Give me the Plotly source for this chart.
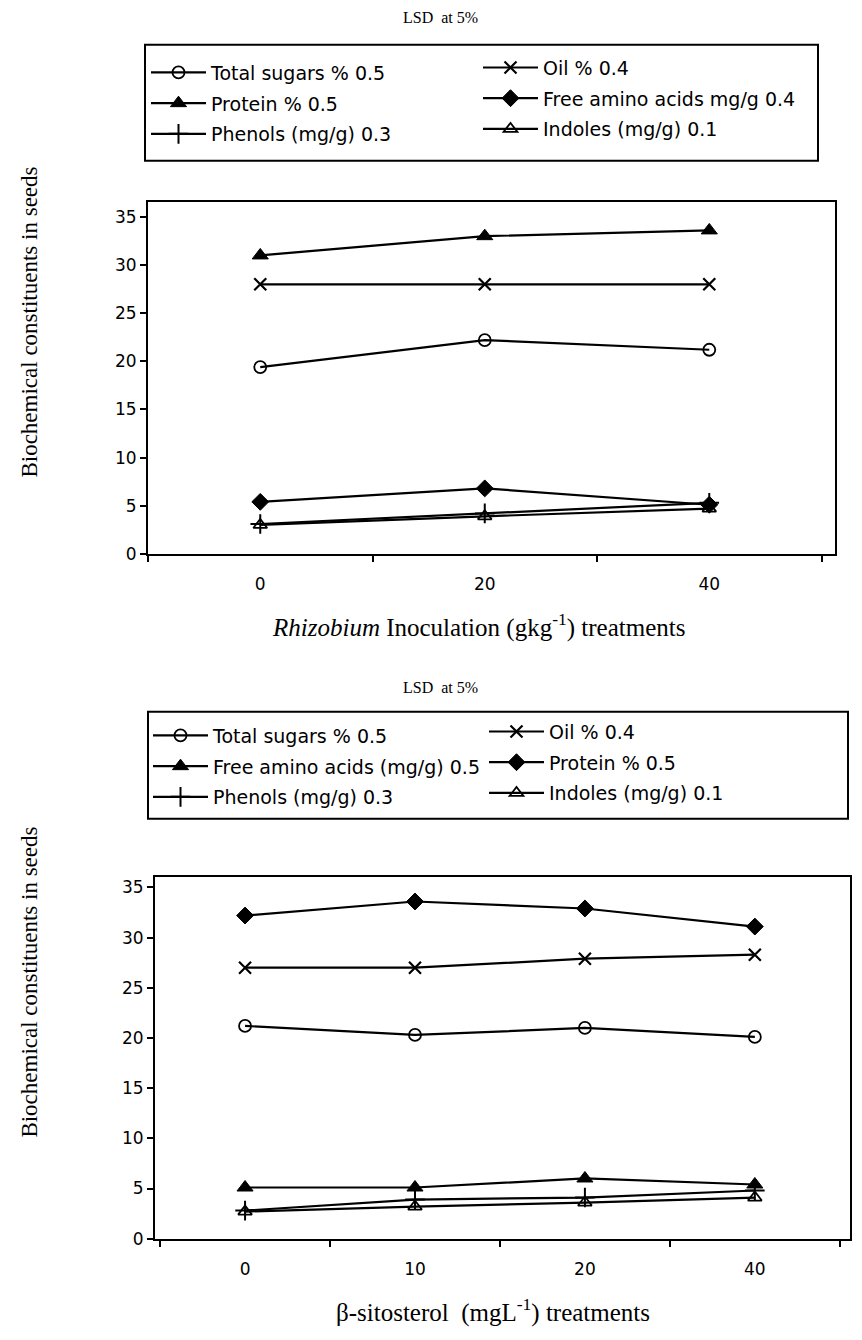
import plotly.graph_objects as go

# ---------------- data ----------------
x_top = ["0", "20", "40"]
sugars_top = [19.4, 22.2, 21.2]
oil_top = [28.0, 28.0, 28.0]
protein_top = [31.0, 33.0, 33.6]
faa_top = [5.4, 6.8, 5.1]
phenols_top = [3.1, 4.2, 5.3]
indoles_top = [3.0, 3.9, 4.7]

x_bot = ["0", "10", "20", "40"]
sugars_bot = [21.2, 20.3, 21.0, 20.1]
oil_bot = [27.0, 27.0, 27.9, 28.3]
faa_bot = [5.1, 5.1, 6.0, 5.4]
protein_bot = [32.2, 33.6, 32.9, 31.1]
phenols_bot = [2.8, 3.9, 4.1, 4.8]
indoles_bot = [2.7, 3.2, 3.6, 4.1]

y_ticks = [0, 5, 10, 15, 20, 25, 30, 35]

W, H = 862, 1340
def px(x):
    return x / W
def py(y):
    return 1 - y / H

SANS = "DejaVu Sans, Arial, sans-serif"
SERIF = "Liberation Serif, Times New Roman, serif"

STY = {
    "sugars": dict(symbol="circle-open", size=12, color="black", line=dict(width=1.8, color="black")),
    "oil": dict(symbol="x-thin-open", size=12, color="black", line=dict(width=2.2, color="black")),
    "tri": dict(symbol="triangle-up", size=14, color="black", line=dict(width=1, color="black")),
    "dia": dict(symbol="diamond", size=13, color="black", line=dict(width=1, color="black")),
    "plus": dict(symbol="cross-thin-open", size=14, color="black", line=dict(width=2, color="black")),
    "itri": dict(symbol="triangle-up-open", size=12, color="black", line=dict(width=1.8, color="black")),
}

fig = go.Figure()

def add(xs, ys, name, sty, xa, ya, leg, grp):
    fig.add_trace(go.Scatter(
        x=xs, y=ys, name=name, mode="lines+markers",
        line=dict(color="black", width=2.2),
        marker=STY[sty], xaxis=xa, yaxis=ya, legend=leg,
        legendgroup=grp, showlegend=True,
    ))

# top chart
add(x_top, sugars_top, "Total sugars % 0.5", "sugars", "x", "y", "legend", "a1")
add(x_top, protein_top, "Protein % 0.5", "tri", "x", "y", "legend", "a2")
add(x_top, phenols_top, "Phenols (mg/g) 0.3", "plus", "x", "y", "legend", "a3")
add(x_top, oil_top, "Oil % 0.4", "oil", "x", "y", "legend2", "b1")
add(x_top, faa_top, "Free amino acids mg/g 0.4", "dia", "x", "y", "legend2", "b2")
add(x_top, indoles_top, "Indoles (mg/g) 0.1", "itri", "x", "y", "legend2", "b3")

# bottom chart
add(x_bot, sugars_bot, "Total sugars % 0.5", "sugars", "x2", "y2", "legend3", "c1")
add(x_bot, faa_bot, "Free amino acids (mg/g) 0.5", "tri", "x2", "y2", "legend3", "c2")
add(x_bot, phenols_bot, "Phenols (mg/g) 0.3", "plus", "x2", "y2", "legend3", "c3")
add(x_bot, oil_bot, "Oil % 0.4", "oil", "x2", "y2", "legend4", "d1")
add(x_bot, protein_bot, "Protein % 0.5", "dia", "x2", "y2", "legend4", "d2")
add(x_bot, indoles_bot, "Indoles (mg/g) 0.1", "itri", "x2", "y2", "legend4", "d3")

axis_common = dict(showline=True, linecolor="black", linewidth=2, mirror=True,
                   showgrid=False, zeroline=False, ticks="outside", ticklen=6,
                   tickcolor="black", tickwidth=1.5,
                   tickfont=dict(family=SANS, size=17, color="black"))

legend_common = dict(font=dict(family=SANS, size=19, color="black"),
                     bgcolor="rgba(0,0,0,0)", borderwidth=0,
                     orientation="v", itemwidth=55, tracegroupgap=3,
                     xanchor="left", yanchor="top", itemclick=False)

fig.update_layout(
    width=W, height=H,
    margin=dict(l=0, r=0, t=0, b=0),
    paper_bgcolor="white", plot_bgcolor="white",
    xaxis=dict(domain=[px(148), px(835)], anchor="y", type="category",
               range=[-0.5, 2.56], tickson="boundaries", ticklabelstandoff=14,
               **axis_common),
    yaxis=dict(domain=[py(558), py(204)], anchor="x", range=[0, 36.5],
               tickvals=y_ticks, **axis_common),
    xaxis2=dict(domain=[px(155), px(850)], anchor="y2", type="category",
                range=[-0.53, 3.56], tickson="boundaries", ticklabelstandoff=14,
                **axis_common),
    yaxis2=dict(domain=[py(1248), py(884)], anchor="x2", range=[0, 36],
                tickvals=y_ticks, **axis_common),
    legend=dict(x=px(146), y=py(54), **legend_common),
    legend2=dict(x=px(478), y=py(49), **legend_common),
    legend3=dict(x=px(148), y=py(722), **legend_common),
    legend4=dict(x=px(484), y=py(718), **legend_common),
    showlegend=True,
)

# legend boxes
fig.add_shape(type="rect", xref="paper", yref="paper",
              x0=px(145), x1=px(818), y0=py(162), y1=py(45),
              line=dict(color="black", width=2))
fig.add_shape(type="rect", xref="paper", yref="paper",
              x0=px(148), x1=px(848), y0=py(825), y1=py(717),
              line=dict(color="black", width=2))

def ann(text, x, y, size, family=SERIF, angle=0):
    fig.add_annotation(text=text, x=px(x), y=py(y), xref="paper", yref="paper",
                       showarrow=False, textangle=angle,
                       font=dict(family=family, size=size, color="black"),
                       xanchor="center", yanchor="middle")

ann("LSD  at 5%", 440, 18, 16)
ann("LSD  at 5%", 440, 693, 16)
ann("Biochemical constituents in seeds", 30, 325, 23, angle=-90)
ann("Biochemical constituents in seeds", 30, 990, 23, angle=-90)
ann("<i>Rhizobium</i> Inoculation (gkg<sup>-1</sup>) treatments", 478, 630, 25)
ann("β-sitosterol  (mgL<sup>-1</sup>) treatments", 493, 1320, 25)

fig.write_html("out.html")
